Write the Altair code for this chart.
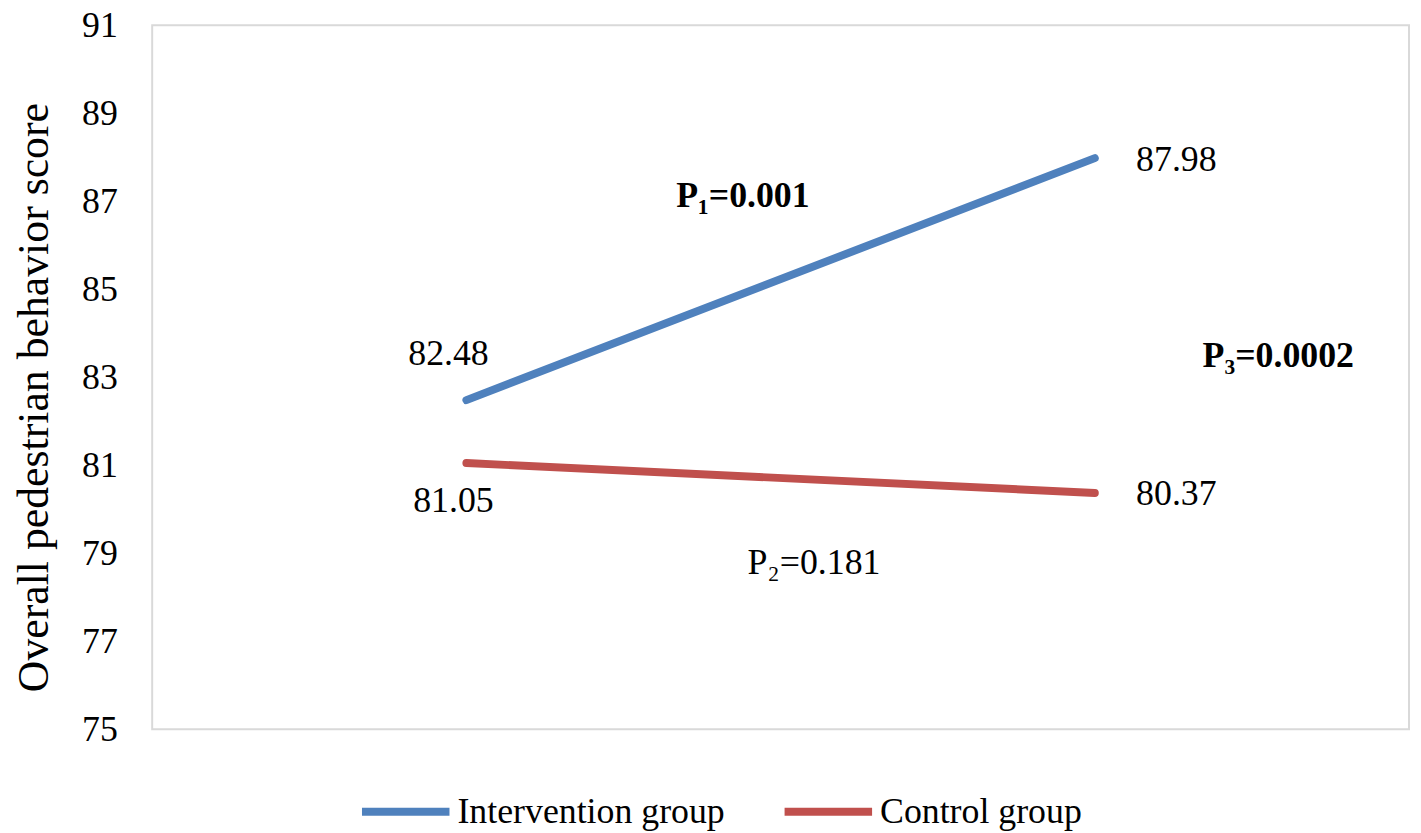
import altair as alt
import pandas as pd

groups = ["Intervention group", "Control group"]
times = [1, 2]
intervention = [82.48, 87.98]
control = [81.05, 80.37]
colors = ["#4f81bd", "#c0504d"]
y_ticks = [75, 77, 79, 81, 83, 85, 87, 89, 91]

p_texts = ["P\u2081=0.001", "P\u2082=0.181", "P\u2083=0.0002"]
p_x = [1.44, 1.553, 2.292]
p_y = [87.11, 78.78, 83.49]
p_bold = ["bold", "normal", "bold"]

FONT = "Liberation Serif"

rows = []
for g, vals in zip(groups, [intervention, control]):
    for t, v in zip(times, vals):
        rows.append({"group": g, "time": t, "score": v})
df = pd.DataFrame(rows)

xs = alt.X("time:Q", scale=alt.Scale(domain=[0.5, 2.5], nice=False), axis=None)
ys = alt.Y("score:Q",
           scale=alt.Scale(domain=[75, 91], nice=False, zero=False),
           axis=alt.Axis(values=y_ticks, title="Overall pedestrian behavior score",
                         grid=False, ticks=False, domain=False,
                         labelFont=FONT, labelFontSize=36, labelColor="black",
                         labelPadding=35, titleFont=FONT, titleFontSize=44,
                         titleFontWeight="normal", titleColor="black",
                         titlePadding=25, titleY=374))

lines = alt.Chart(df).mark_line(strokeWidth=8, strokeCap="round").encode(
    x=xs, y=ys,
    color=alt.Color("group:N",
                    scale=alt.Scale(domain=groups, range=colors),
                    sort=groups,
                    legend=alt.Legend(title=None, orient="none", direction="horizontal",
                                      legendX=207, legendY=743,
                                      symbolType="stroke", symbolSize=7744,
                                      symbolStrokeWidth=8, labelFont=FONT,
                                      labelFontSize=36, labelColor="black",
                                      labelLimit=600,
                                      labelOffset=4, columnPadding=44)),
)

offsets = {
    ("Intervention group", 1): (-18, -46),
    ("Intervention group", 2): (82, 2),
    ("Control group", 1): (-13, 38),
    ("Control group", 2): (82, 1),
}
layers = [lines]
for (g, t), (dx, dy) in offsets.items():
    layers.append(
        alt.Chart(df).transform_filter(
            (alt.datum.group == g) & (alt.datum.time == t)
        ).mark_text(font=FONT, fontSize=36, color="black", dx=dx, dy=dy,
                    baseline="middle", align="center").encode(
            x="time:Q", y="score:Q", text=alt.Text("score:Q", format=".2f"))
    )

ann = pd.DataFrame({"text": p_texts, "x": p_x, "y": p_y, "w": p_bold})
for w in ["bold", "normal"]:
    layers.append(
        alt.Chart(ann).transform_filter(alt.datum.w == w).mark_text(
            font=FONT, fontSize=36, color="black", fontWeight=w,
            baseline="middle", align="center").encode(
            x="x:Q", y="y:Q", text="text:N")
    )

chart = alt.layer(*layers).properties(
    width=1264, height=708,
    autosize=alt.AutoSizeParams(type="none"),
    padding={"left": 145, "top": 15, "right": 4, "bottom": 102},
).configure_view(stroke="#d9d9d9", strokeWidth=2)

chart.save("out.html", embed_options={"renderer": "svg", "actions": False})
